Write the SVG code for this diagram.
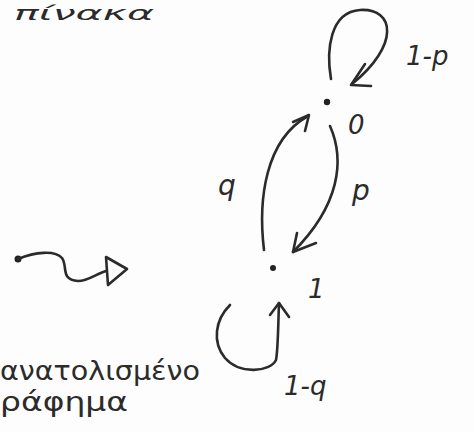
<svg xmlns="http://www.w3.org/2000/svg" width="474" height="432" viewBox="0 0 474 432">
<style>
.ln{fill:none;stroke:#2b2b2b;stroke-width:2.6;stroke-linecap:round;stroke-linejoin:round}
.t{font-family:"DejaVu Sans","Liberation Sans",sans-serif;font-style:italic;fill:#2b2b2b}
.g{font-family:"DejaVu Sans","Liberation Sans",sans-serif;fill:#2b2b2b}
</style>
<rect width="474" height="432" fill="#fdfdfd"/>
<text class="t" x="14" y="20" font-size="20" textLength="140" lengthAdjust="spacingAndGlyphs">πίνακα</text>
<g id="node0">
<circle cx="327" cy="102" r="3.2" fill="#222"/>
<text class="t" x="348" y="134" font-size="26">0</text>
</g>
<g id="node1">
<circle cx="273" cy="268" r="3" fill="#222"/>
<text class="t" x="308" y="298" font-size="26">1</text>
</g>
<g id="start">
<circle cx="18" cy="259" r="3.5" fill="#222"/>
</g>
<g id="connectors">
<path class="ln" d="M331,79 C326,50 330,12 360,10 C395,8 400,45 352,84"/>
<path class="ln" d="M365,64 L351,85 L371,86"/>
<path class="ln" d="M264,250 C258,200 265,140 308,116"/>
<path class="ln" d="M293,122 L309,115 L305,131"/>
<path class="ln" d="M330,126 C345,160 340,205 293,252"/>
<path class="ln" d="M297,233 L293,252 L316,243"/>
<path class="ln" d="M279,303 C278,330 278,350 276,360 C270,372 240,375 225,358 C212,342 215,320 230,305"/>
<path class="ln" d="M270,315 L279,303 L289,317"/>
<path class="ln" d="M18,259 C35,252 55,250 62,258 C68,266 60,280 78,281 C88,281 96,274 106,271"/>
<path class="ln" d="M106,257 L127,269 L108,285 Z"/>
</g>
<g id="labels">
<text class="t" x="406" y="65" font-size="26">1-p</text>
<text class="t" x="218" y="195" font-size="28">q</text>
<text class="t" x="352" y="200" font-size="28">p</text>
<text class="t" x="284" y="395" font-size="26">1-q</text>
</g>
<text class="g" x="0" y="380" font-size="26" textLength="200" lengthAdjust="spacingAndGlyphs">ανατολισμένο</text>
<text class="g" x="0" y="411" font-size="26" textLength="128" lengthAdjust="spacingAndGlyphs">ράφημα</text>
</svg>
